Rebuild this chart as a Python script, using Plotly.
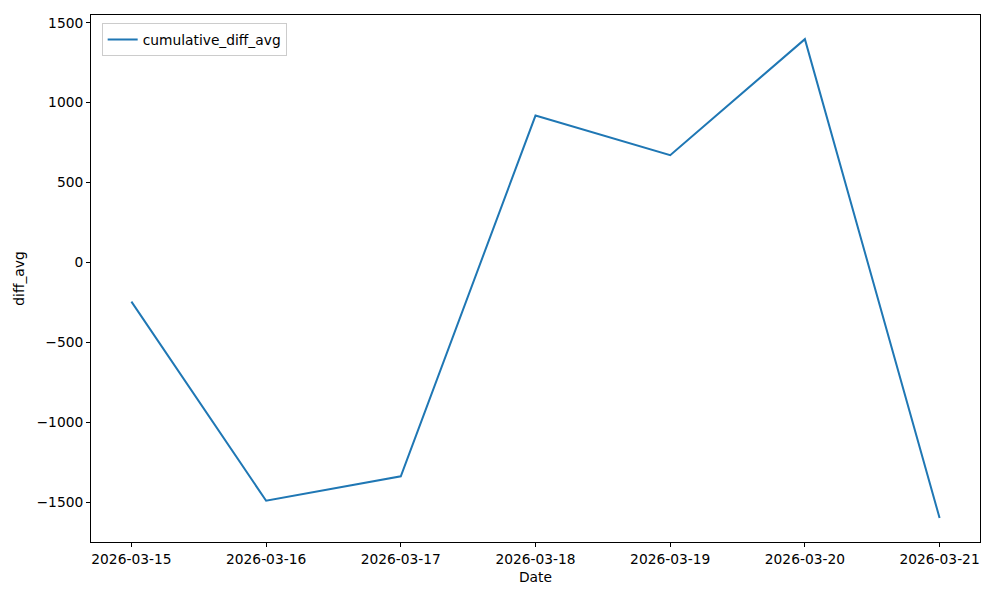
import plotly.graph_objects as go

dates = ["2026-03-15", "2026-03-16", "2026-03-17", "2026-03-18",
         "2026-03-19", "2026-03-20", "2026-03-21"]
cumulative_diff_avg = [-245, -1490, -1337, 919, 671, 1397, -1598]

y_ticks = [-1500, -1000, -500, 0, 500, 1000, 1500]
y_tick_text = [("\u2212" + str(-v)) if v < 0 else str(v) for v in y_ticks]

fig = go.Figure()
fig.add_trace(go.Scatter(
    x=dates, y=cumulative_diff_avg, mode="lines",
    name="cumulative_diff_avg",
    line=dict(color="#1f77b4", width=2),
))

font = dict(family="DejaVu Sans", size=13.8, color="black")
fig.update_layout(
    width=1000, height=600,
    margin=dict(l=83, r=28, t=7, b=66),
    paper_bgcolor="white", plot_bgcolor="white",
    font=font,
    showlegend=True,
    legend=dict(x=0.012, y=0.985, xanchor="left", yanchor="top",
                bgcolor="rgba(255,255,255,0.8)", bordercolor="#cccccc",
                borderwidth=1, font=font, itemwidth=30),
)
fig.update_xaxes(
    type="date",
    range=["2026-03-14 16:48", "2026-03-21 07:12"],
    tickvals=dates, ticktext=dates,
    showgrid=False, zeroline=False,
    showline=True, linecolor="black", linewidth=1, mirror=True,
    ticks="outside", ticklen=4, tickcolor="black",
    title=dict(text="Date", font=font, standoff=6),
)
fig.update_yaxes(
    range=[-1748, 1548],
    tickvals=y_ticks, ticktext=y_tick_text,
    showgrid=False, zeroline=False,
    showline=True, linecolor="black", linewidth=1, mirror=True,
    ticks="outside", ticklen=4, tickcolor="black",
    title=dict(text="diff_avg", font=font, standoff=8),
)

fig.write_html("out.html")
